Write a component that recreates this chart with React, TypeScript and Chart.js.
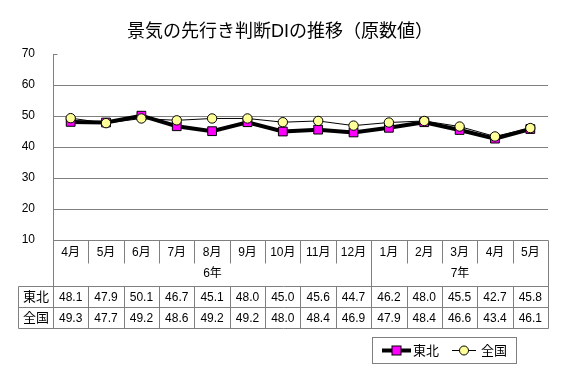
import React, { useEffect, useRef } from "react";
import { Chart, registerables } from "chart.js";

Chart.register(...registerables);

const chartTitle = "景気の先行き判断DIの推移（原数値）";
const months = ["4月", "5月", "6月", "7月", "8月", "9月", "10月", "11月", "12月", "1月", "2月", "3月", "4月", "5月"];
const yearLabels = ["6年", "7年"];
const yearSpans = [9, 5];
const seriesNames = ["東北", "全国"];
const tohoku = [48.1, 47.9, 50.1, 46.7, 45.1, 48.0, 45.0, 45.6, 44.7, 46.2, 48.0, 45.5, 42.7, 45.8];
const zenkoku = [49.3, 47.7, 49.2, 48.6, 49.2, 49.2, 48.0, 48.4, 46.9, 47.9, 48.4, 46.6, 43.4, 46.1];
const yMin = 10;
const yMax = 70;
const yStep = 10;

const FONT = "'Liberation Sans', Arial, 'Noto Sans CJK JP', sans-serif";
const GRID = "#808080";
const MAGENTA = "#FF00FF";
const YELLOW = "#FFFF99";

const tablePlugin = {
  id: "tablePlugin",
  afterDraw(chart: any) {
    const { ctx, chartArea, scales } = chart;
    const { left, right, bottom, top } = chartArea;
    const x = scales.x;
    const n = months.length;
    const cw = x.getPixelForTick(1) - x.getPixelForTick(0);
    const bx = (i: number) => Math.round(x.getPixelForTick(0) - cw / 2 + i * cw) + 0.5;
    const L = Math.round(left) + 0.5;
    const R = Math.round(right) + 0.5;
    const B = Math.round(bottom) + 0.5;
    const monthBottom = B + 23;
    const seriesTop = B + 46;
    const row2 = B + 67;
    const tableBottom = B + 88;
    const labelLeft = 18.5;

    ctx.save();
    // title
    ctx.fillStyle = "#000";
    ctx.font = `18px ${FONT}`;
    ctx.textAlign = "center";
    ctx.textBaseline = "middle";
    ctx.fillText(chartTitle, 280, 32);

    ctx.strokeStyle = GRID;
    ctx.lineWidth = 1;
    const line = (x1: number, y1: number, x2: number, y2: number) => {
      ctx.beginPath();
      ctx.moveTo(x1, y1);
      ctx.lineTo(x2, y2);
      ctx.stroke();
    };
    // tick at top
    line(L, Math.round(top) + 0.5, L + 4, Math.round(top) + 0.5);
    // table borders
    line(L, B, R, B);
    line(L, B, L, tableBottom);
    line(R, B, R, tableBottom);
    line(labelLeft, seriesTop, R, seriesTop);
    line(labelLeft, row2, R, row2);
    line(labelLeft, tableBottom, R, tableBottom);
    line(labelLeft, seriesTop, labelLeft, tableBottom);
    // month separators
    let acc = 0;
    const yearEnds = yearSpans.map((s) => (acc += s));
    for (let i = 1; i < n; i++) {
      const full = yearEnds.includes(i);
      line(bx(i), B, bx(i), full ? seriesTop : monthBottom);
      line(bx(i), seriesTop, bx(i), tableBottom);
    }

    ctx.fillStyle = "#000";
    ctx.textAlign = "center";
    ctx.textBaseline = "middle";
    ctx.font = `12px ${FONT}`;
    for (let i = 0; i < n; i++) {
      const cx = x.getPixelForTick(i);
      ctx.fillText(months[i], cx, B + 12.5);
      ctx.fillText(tohoku[i].toFixed(1), cx, seriesTop + 11);
      ctx.fillText(zenkoku[i].toFixed(1), cx, row2 + 11);
    }
    let start = 0;
    yearLabels.forEach((lab, k) => {
      const x1 = bx(start);
      const x2 = bx(start + yearSpans[k]);
      ctx.fillText(lab, (x1 + x2) / 2, B + 33);
      start += yearSpans[k];
    });
    ctx.font = `13px ${FONT}`;
    ctx.fillText(seriesNames[0], (labelLeft + L) / 2, seriesTop + 11);
    ctx.fillText(seriesNames[1], (labelLeft + L) / 2, row2 + 11);

    // legend
    const lx = 372.5, ly = 337.5, lw = 144, lh = 26;
    ctx.strokeStyle = GRID;
    ctx.strokeRect(lx, ly, lw, lh);
    const cy = ly + lh / 2;
    ctx.strokeStyle = "#000";
    ctx.lineWidth = 4;
    line(382, cy, 411, cy);
    ctx.lineWidth = 1;
    ctx.fillStyle = MAGENTA;
    ctx.fillRect(392, cy - 4.5, 9, 9);
    ctx.strokeRect(392, cy - 4.5, 9, 9);
    line(452, cy, 476, cy);
    ctx.beginPath();
    ctx.arc(464, cy, 4.5, 0, Math.PI * 2);
    ctx.fillStyle = YELLOW;
    ctx.fill();
    ctx.stroke();
    ctx.fillStyle = "#000";
    ctx.font = `13px ${FONT}`;
    ctx.textAlign = "left";
    ctx.fillText(seriesNames[0], 413, cy + 0.5);
    ctx.fillText(seriesNames[1], 481, cy + 0.5);
    ctx.restore();
  },
};

export default function App() {
  const ref = useRef<HTMLCanvasElement>(null);
  useEffect(() => {
    if (!ref.current) return;
    const chart = new Chart(ref.current, {
      type: "line",
      data: {
        labels: months,
        datasets: [
          {
            label: seriesNames[0],
            data: tohoku,
            borderColor: "#000",
            borderWidth: 4,
            backgroundColor: MAGENTA,
            pointStyle: "rect",
            pointRadius: 6.2,
            pointBorderColor: "#000",
            pointBorderWidth: 1,
            pointBackgroundColor: MAGENTA,
            tension: 0,
            order: 2,
          },
          {
            label: seriesNames[1],
            data: zenkoku,
            borderColor: "#000",
            borderWidth: 1,
            backgroundColor: YELLOW,
            pointStyle: "circle",
            pointRadius: 4.7,
            pointBorderColor: "#000",
            pointBorderWidth: 1,
            pointBackgroundColor: YELLOW,
            tension: 0,
            order: 1,
          },
        ],
      },
      options: {
        responsive: false,
        animation: false,
        devicePixelRatio: 1,
        layout: { padding: { left: 0, right: 16, top: 54, bottom: 142 } },
        plugins: { legend: { display: false }, tooltip: { enabled: false }, title: { display: false } },
        scales: {
          x: { type: "category", offset: true, display: false },
          y: {
            min: yMin,
            max: yMax,
            ticks: { stepSize: yStep, color: "#000", padding: 18, font: { size: 12, family: FONT } },
            grid: {
              drawTicks: false,
              color: (c: any) => (c.tick && c.tick.value === yMax ? "rgba(0,0,0,0)" : GRID),
              lineWidth: 1,
            },
            border: { display: true, color: GRID },
            afterFit: (scale: any) => {
              scale.width = 53;
            },
          },
        },
      },
      plugins: [tablePlugin],
    });
    return () => chart.destroy();
  }, []);
  return (
    <div style={{ position: "absolute", left: 0, top: 0, width: 564, height: 382 }}>
      <canvas ref={ref} width={564} height={382} />
    </div>
  );
}
